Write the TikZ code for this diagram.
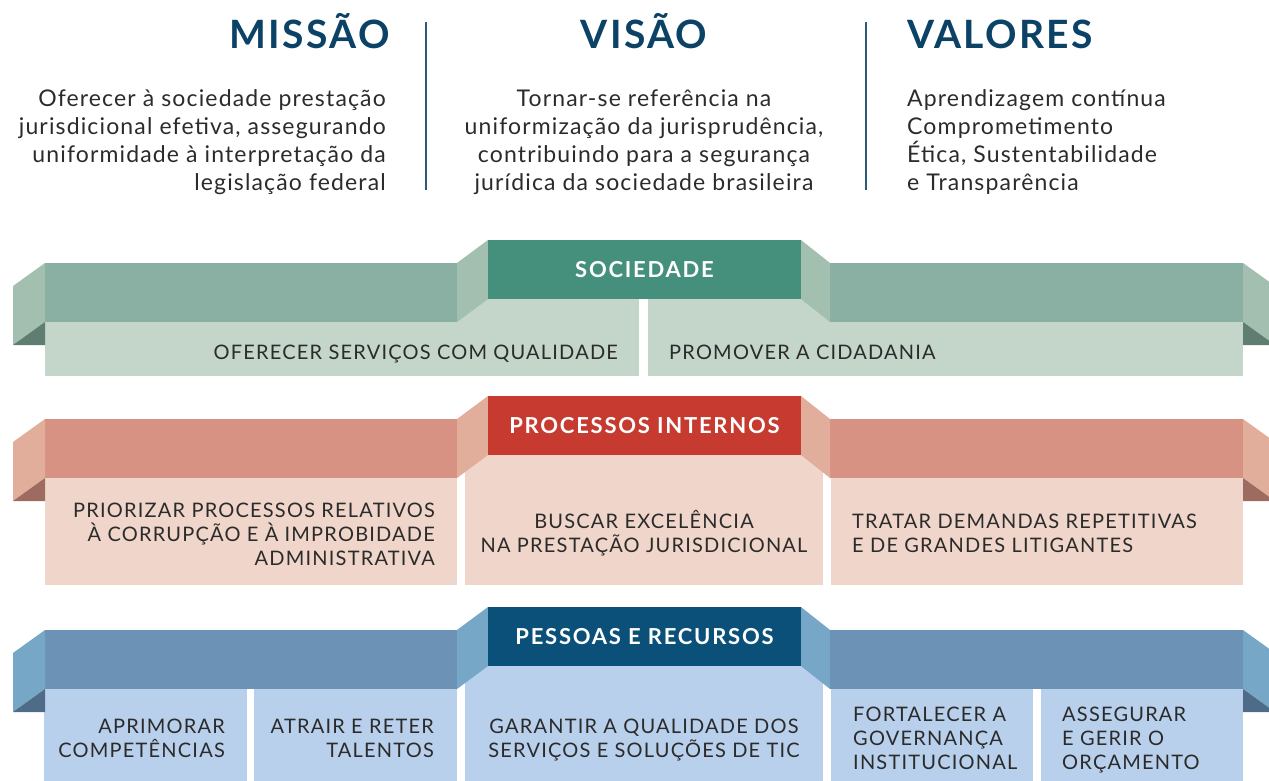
\documentclass[tikz,border=0pt]{standalone}
\usepackage{fontspec}
\setmainfont{Lato}
\newfontfamily\titlefont[LetterSpace=6]{Lato}
\newfontfamily\headfont[LetterSpace=8]{Lato}
\newfontfamily\bodyfont[LetterSpace=5]{Lato}
\newfontfamily\boxfont[LetterSpace=6]{Lato}
\usetikzlibrary{positioning}

% colours of the three bands
\definecolor{titleblue}{HTML}{0B4266}
\definecolor{ruleblue}{HTML}{2E5A7A}
\definecolor{textgrey}{HTML}{2B2B2B}
\definecolor{sochead}{HTML}{45907C}
\definecolor{socbar}{HTML}{89B0A2}
\definecolor{socflap}{HTML}{A2BFAF}
\definecolor{socdark}{HTML}{5F7D70}
\definecolor{socbox}{HTML}{C4D5CA}
\definecolor{prohead}{HTML}{C63A2F}
\definecolor{probar}{HTML}{D89283}
\definecolor{proflap}{HTML}{E2AE9C}
\definecolor{prodark}{HTML}{9E6B60}
\definecolor{probox}{HTML}{F0D5CA}
\definecolor{peshead}{HTML}{0B5079}
\definecolor{pesbar}{HTML}{6C92B5}
\definecolor{pesflap}{HTML}{76A7C6}
\definecolor{pesdark}{HTML}{4E6B87}
\definecolor{pesbox}{HTML}{B9D0EC}

\tikzset{
        plain_text/.style={inner sep=0pt, text=textgrey},
        % Mission, vision, values
        title_text/.style={plain_text, text=titleblue, font=\titlefont\bfseries\fontsize{39}{39}\selectfont},
        body_text/.style={plain_text, font=\bodyfont\fontsize{23}{28}\selectfont},
        % Band headers
        band_head/.style={inner sep=0pt, text=white, minimum width=313pt, minimum height=59pt,
                font=\headfont\bfseries\fontsize{22}{22}\selectfont},
        % Objective boxes
        box_text/.style={plain_text, font=\boxfont\fontsize{20}{24}\selectfont}
}

% ribbon of a band: #1 top of the header, #2 colour prefix
\newcommand{\ribbon}[2]{
    \fill[#2bar] (45,#1+23) rectangle (457,#1+82);
    \fill[#2bar] (830,#1+23) rectangle (1243,#1+82);
    \fill[#2flap] (457,#1+23) -- (488,#1) -- (488,#1+59) -- (457,#1+82) -- cycle;
    \fill[#2flap] (801,#1) -- (830,#1+23) -- (830,#1+82) -- (801,#1+59) -- cycle;
    \fill[#2flap] (13,#1+46) -- (45,#1+23) -- (45,#1+82) -- (13,#1+105) -- cycle;
    \fill[#2dark] (13,#1+105) -- (45,#1+82) -- (45,#1+105) -- cycle;
    \fill[#2flap] (1243,#1+23) -- (1275,#1+46) -- (1275,#1+105) -- (1243,#1+82) -- cycle;
    \fill[#2dark] (1243,#1+82) -- (1243,#1+105) -- (1275,#1+105) -- cycle;
}

\begin{document}
\begin{tikzpicture}[x=1pt, y=-1pt]
    \useasboundingbox (0,0) rectangle (1269,781);

    % Mission, vision, values
    \draw[ruleblue, line width=2pt] (426,22) -- (426,190);
    \draw[ruleblue, line width=2pt] (866,22) -- (866,190);
    \node[title_text, anchor=base east] (missao) at (390,49) {MISSÃO};
    \node[title_text, anchor=base] (visao) at (644,49) {VISÃO};
    \node[title_text, anchor=base west] (valores) at (907,49) {VALORES};
    \node[body_text, anchor=base east, align=right] (missao_txt) at (386,190)
        {Oferecer à sociedade prestação\\jurisdicional efetiva, assegurando\\uniformidade à interpretação da\\legislação federal};
    \node[body_text, anchor=base, align=center] (visao_txt) at (644,190)
        {Tornar-se referência na\\uniformização da jurisprudência,\\contribuindo para a segurança\\jurídica da sociedade brasileira};
    \node[body_text, anchor=base west, align=left] (valores_txt) at (907,190)
        {Aprendizagem contínua\\Comprometimento\\Ética, Sustentabilidade\\e Transparência};

    % Sociedade
    \fill[socbox] (45,299) rectangle (639,376);
    \fill[socbox] (648,299) rectangle (1243,376);
    \ribbon{240}{soc}
    \node[band_head, fill=sochead] (sociedade) at (644.5,269.5) {SOCIEDADE};
    \node[box_text, anchor=base east] (servicos) at (618,359) {OFERECER SERVIÇOS COM QUALIDADE};
    \node[box_text, anchor=base west] (cidadania) at (669,359) {PROMOVER A CIDADANIA};

    % Processos internos
    \fill[probox] (45,455) rectangle (457,585);
    \fill[probox] (465,455) rectangle (823,585);
    \fill[probox] (831,455) rectangle (1243,585);
    \ribbon{396}{pro}
    \node[band_head, fill=prohead] (processos) at (644.5,425.5) {PROCESSOS INTERNOS};
    \node[box_text, anchor=base east, align=right] (corrupcao) at (435,565)
        {PRIORIZAR PROCESSOS RELATIVOS\\À CORRUPÇÃO E À IMPROBIDADE\\ADMINISTRATIVA};
    \node[box_text, anchor=base, align=center] (excelencia) at (644,552)
        {BUSCAR EXCELÊNCIA\\NA PRESTAÇÃO JURISDICIONAL};
    \node[box_text, anchor=base west, align=left] (demandas) at (852,552)
        {TRATAR DEMANDAS REPETITIVAS\\E DE GRANDES LITIGANTES};

    % Pessoas e recursos
    \fill[pesbox] (44,666) rectangle (247,790);
    \fill[pesbox] (254,666) rectangle (457,790);
    \fill[pesbox] (465,666) rectangle (823,790);
    \fill[pesbox] (831,666) rectangle (1033,790);
    \fill[pesbox] (1041,666) rectangle (1243,790);
    \ribbon{607}{pes}
    \node[band_head, fill=peshead] (pessoas) at (644.5,636.5) {PESSOAS E RECURSOS};
    \node[box_text, anchor=base east, align=right] (competencias) at (225,757)
        {APRIMORAR\\COMPETÊNCIAS};
    \node[box_text, anchor=base east, align=right] (talentos) at (434,757)
        {ATRAIR E RETER\\TALENTOS};
    \node[box_text, anchor=base, align=center] (tic) at (644,757)
        {GARANTIR A QUALIDADE DOS\\SERVIÇOS E SOLUÇÕES DE TIC};
    \node[box_text, anchor=base west, align=left] (governanca) at (853,769)
        {FORTALECER A\\GOVERNANÇA\\INSTITUCIONAL};
    \node[box_text, anchor=base west, align=left] (orcamento) at (1062,769)
        {ASSEGURAR\\E GERIR O\\ORÇAMENTO};
\end{tikzpicture}
\end{document}
